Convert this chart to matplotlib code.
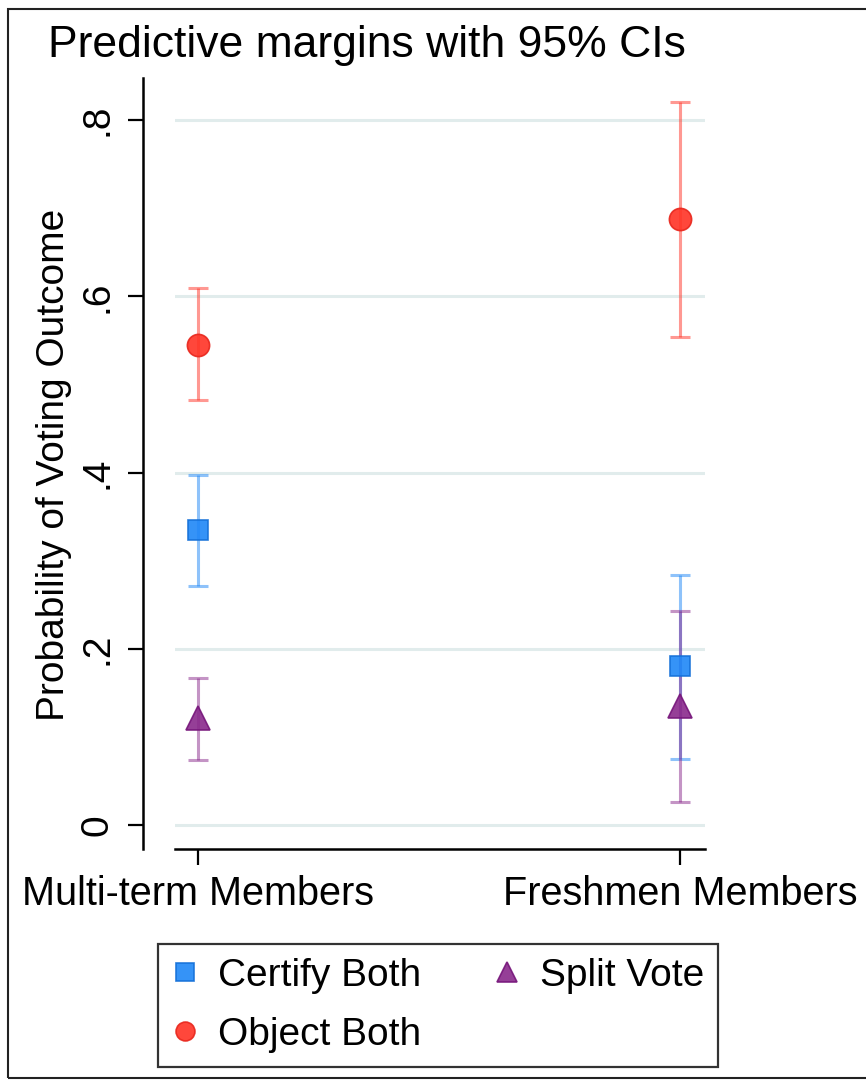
import matplotlib
matplotlib.use("Agg")
import matplotlib.pyplot as plt
from matplotlib.patches import Rectangle
import numpy as np

plt.rcParams['font.family'] = ['Liberation Sans', 'DejaVu Sans']

categories = ["Multi-term Members", "Freshmen Members"]
series = ["Certify Both", "Object Both", "Split Vote"]
certify_est = [0.335, 0.180]
certify_lo = [0.271, 0.075]
certify_hi = [0.397, 0.284]
object_est = [0.545, 0.688]
object_lo = [0.482, 0.554]
object_hi = [0.609, 0.820]
split_est = [0.121, 0.135]
split_lo = [0.074, 0.026]
split_hi = [0.167, 0.243]
ytick_vals = [0, 0.2, 0.4, 0.6, 0.8]
ytick_labels = ["0", ".2", ".4", ".6", ".8"]

W, H = 866, 1083
fig = plt.figure(figsize=(W / 100, H / 100), dpi=100)
fig.patch.set_facecolor('white')

# axes in pixel coordinates
x0, x1 = 175, 705
y_top, y_bot = 78, 849
ax = fig.add_axes([x0 / W, 1 - y_bot / H, (x1 - x0) / W, (y_bot - y_top) / H])
ax.spines['top'].set_visible(False)
ax.spines['right'].set_visible(False)
ax.spines['left'].set_position(('outward', 32 * 0.72))
ax.spines['left'].set_linewidth(1.8)
ax.spines['bottom'].set_linewidth(1.8)
ax.set_facecolor('white')
ax.set_xlim(-0.048, 1.052)
ax.set_ylim(-0.0272, 0.8477)

for v in ytick_vals:
    ax.axhline(v, color='#E1ECEC', lw=2.2, zorder=0)

styles = [
    (certify_est, certify_lo, certify_hi, 's', '#1F87F7', '#1470D8', 15),
    (object_est, object_lo, object_hi, 'o', '#FF3326', '#E8261C', 16),
    (split_est, split_lo, split_hi, '^', '#8A2A8C', '#76157A', 17),
]
xs = np.arange(len(categories))
handles = []
for (est, lo, hi, mk, col, ecol, ms), name in zip(styles, series):
    est = np.array(est); lo = np.array(lo); hi = np.array(hi)
    ax.errorbar(xs, est, yerr=[est - lo, hi - est], fmt='none', ecolor=col,
                elinewidth=2.2, capsize=7.2, capthick=2.2, alpha=0.5, zorder=2)
    h, = ax.plot(xs, est, linestyle='none', marker=mk, markersize=ms,
                 markerfacecolor=col, markeredgecolor=ecol, markeredgewidth=1.2,
                 alpha=0.9, zorder=3, label=name)
    handles.append(h)

ax.set_yticks(ytick_vals)
ax.set_yticklabels(ytick_labels, rotation=90, va='center')
ax.set_xticks(xs)
ax.set_xticklabels(categories)
ax.tick_params(axis='y', length=11, width=1.6, pad=9, color='black', labelsize=28)
ax.tick_params(axis='x', length=11.5, width=1.6, pad=7, color='black', labelsize=28.5)

fig.text(54 / W, 1 - 465 / H, "Probability of Voting Outcome", rotation=90,
         ha='center', va='center', fontsize=28)
fig.text(367 / W, 1 - 46 / H, "Predictive margins with 95% CIs",
         ha='center', va='center', fontsize=32)

leg = fig.legend(handles=handles, loc='upper left',
                 bbox_to_anchor=(158 / W, 1 - 944 / H), borderaxespad=0,
                 ncol=2, fontsize=28, frameon=True,
                 fancybox=False, edgecolor='black', borderpad=0.35,
                 handletextpad=0.5, columnspacing=1.85, labelspacing=0.6,
                 handlelength=0.7, markerscale=0.85)
leg.get_frame().set_linewidth(1.6)

fig.patches.append(Rectangle((8 / W, 1 - 1078 / H), (W + 5 - 8) / W, (1078 - 9) / H,
                             transform=fig.transFigure, fill=False,
                             edgecolor='#222222', lw=1.5))

fig.savefig("out.png", dpi=100)
